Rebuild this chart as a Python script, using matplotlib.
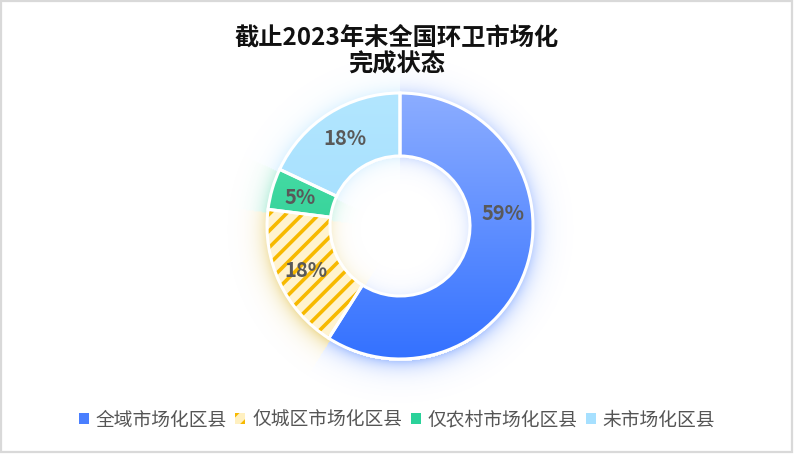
import numpy as np
import matplotlib
matplotlib.use("Agg")
import matplotlib.pyplot as plt
from matplotlib.patches import Patch, Rectangle
from matplotlib.colors import to_rgb

plt.rcParams['font.family'] = ['Noto Sans CJK SC', 'DejaVu Sans']
plt.rcParams['hatch.linewidth'] = 2.6

# data
title = "截止2023年末全国环卫市场化\n完成状态"
categories = ["全域市场化区县", "仅城区市场化区县", "仅农村市场化区县", "未市场化区县"]
values = [59, 18, 5, 18]

# gradient colours (top, bottom) per slice
top_cols = ["#8cadff", "#fff3cf", "#55e4ae", "#b2e6ff"]
bot_cols = ["#3371ff", "#fff3cf", "#19c287", "#9ad9fd"]
glow_cols = ["#3d78ff", "#d7a800", "#20c98f", "#7fcfff"]
legend_cols = ["#4a7fff", "#fff0c0", "#2ad29a", "#a6e0ff"]
stripe_col = "#f7b900"
label_shift = [23, 0, 0, 0]   # degrees, label nudge

W, H = 794, 465
cx, cy = 400, H - 226
R_out, R_in = 133, 70

fig = plt.figure(figsize=(W / 100, H / 100), dpi=100)
ax = fig.add_axes([0, 0, 1, 1])

# soft glow behind the ring
yy, xx = np.mgrid[0:H, 0:W]
dx = xx - cx
dy = (H - yy - 0.5) - (cy - 4)
r = np.hypot(dx, dy)
ang = (90 - np.degrees(np.arctan2(dy, dx))) % 360
bounds = np.cumsum(values) / np.sum(values) * 360
idx = np.searchsorted(bounds, ang)
idx = np.clip(idx, 0, len(values) - 1)
gc = np.array([to_rgb(c) for c in glow_cols])
glow = np.zeros((H, W, 4))
glow[..., :3] = gc[idx]
a_out = np.where(r >= R_out - 2, 0.42 * np.exp(-(r - R_out + 2) / 9.0), 0)
a_in = np.where(r <= R_in + 2, 0.22 * np.exp(-(R_in + 2 - r) / 8.0), 0)
glow[..., 3] = a_out + a_in
ax.imshow(glow, extent=(0, W, 0, H), origin='upper', zorder=0, interpolation='bilinear')

wedges, _ = ax.pie(values, startangle=90, counterclock=False, center=(cx, cy),
                   radius=R_out, wedgeprops=dict(width=R_out - R_in))

ext = (cx - R_out, cx + R_out, cy - R_out, cy + R_out)
for i, w in enumerate(wedges):
    t = np.array(to_rgb(top_cols[i]))
    b = np.array(to_rgb(bot_cols[i]))
    f = np.linspace(0, 1, 256)[:, None, None]
    grad = t * (1 - f) + b * f
    im = ax.imshow(grad, extent=ext, origin='upper', zorder=2, aspect='auto')
    im.set_clip_path(w)
    w.set_facecolor('none')
    w.set_edgecolor('white')
    w.set_linewidth(2.2)
    w.set_zorder(4)
    if i == 1:
        h = ax.pie([values[i]], startangle=w.theta2, counterclock=True,
                   center=(cx, cy), radius=R_out,
                   wedgeprops=dict(width=R_out - R_in))[0][0]
        h.set_theta1(w.theta1)
        h.set_theta2(w.theta2)
        h.set_facecolor('none')
        h.set_edgecolor(stripe_col)
        h.set_linewidth(0)
        h.set_hatch('//')
        h.set_zorder(3)

# percent labels
total = sum(values)
for i, w in enumerate(wedges):
    mid = np.radians((w.theta1 + w.theta2) / 2 + label_shift[i])
    rr = (R_out + R_in) / 2 + 2
    ax.text(cx + rr * np.cos(mid), cy + rr * np.sin(mid),
            f"{values[i] / total * 100:.0f}%", ha='center', va='center',
            fontsize=14.5, fontweight='bold', color='#595959', zorder=5)

ax.set_xlim(0, W)
ax.set_ylim(0, H)
ax.set_aspect('equal')
ax.axis('off')

fig.text(0.5, 1 - 51 / H, title, ha='center', va='center', fontsize=17.5,
         fontweight='bold', color='#111111', linespacing=1.15)

handles = []
for i, c in enumerate(categories):
    if i == 1:
        handles.append(Patch(facecolor=legend_cols[i], edgecolor=stripe_col,
                             hatch='//', linewidth=0, label=c))
    else:
        handles.append(Patch(facecolor=legend_cols[i], linewidth=0, label=c))
leg = fig.legend(handles=handles, loc='center', bbox_to_anchor=(0.5, 1 - 420 / H),
                 ncol=4, frameon=False, fontsize=13.5, handlelength=0.53,
                 handleheight=0.53, handletextpad=0.37, columnspacing=0.45,
                 borderpad=0, borderaxespad=0)
for t in leg.get_texts():
    t.set_color('#555555')

# outer frame of the card
border = Rectangle((1, H - 452), 791, 451, facecolor='none',
                   edgecolor='#d9d9d9', linewidth=1.6, zorder=10, clip_on=False)
ax.add_patch(border)

fig.savefig('out.png', dpi=100, facecolor='white')
